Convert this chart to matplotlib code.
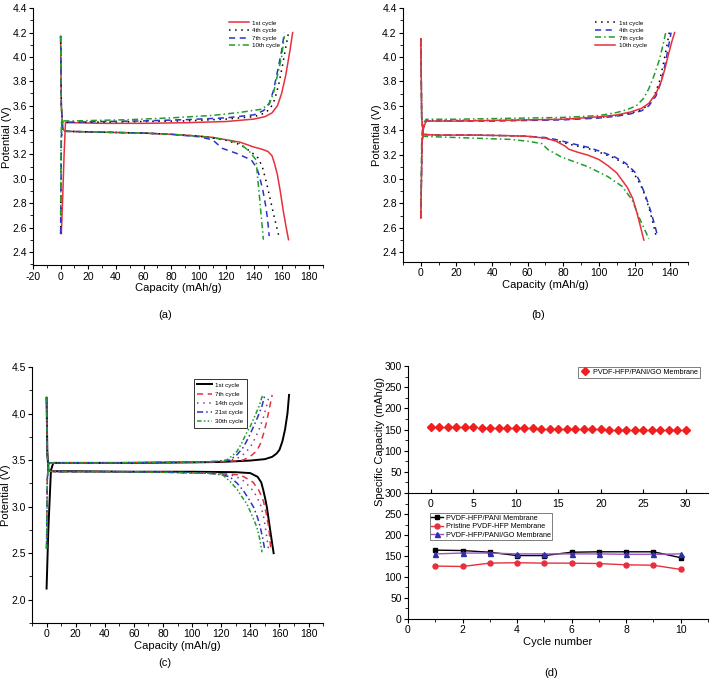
import matplotlib.pyplot as plt
from matplotlib.ticker import MultipleLocator

plt.rcParams['font.family'] = ['Liberation Sans', 'DejaVu Sans']
plt.rcParams['axes.unicode_minus'] = False

# ---------------- panel (a) ----------------
a1_chg_x = [0.5, 1.5, 2.5, 3.5, 10, 30, 60, 90, 120, 140, 148, 153, 157, 160, 163, 166, 168]
a1_chg_y = [2.55, 2.85, 3.2, 3.46, 3.46, 3.455, 3.455, 3.46, 3.47, 3.49, 3.51, 3.54, 3.6, 3.7, 3.85, 4.05, 4.2]
a1_dis_x = [0, 0.5, 1.5, 3, 20, 40, 60, 80, 100, 110, 120, 130, 135, 140, 145, 150, 153, 155, 157, 159, 161, 163, 165]
a1_dis_y = [4.17, 3.6, 3.41, 3.39, 3.385, 3.38, 3.375, 3.365, 3.35, 3.34, 3.32, 3.3, 3.28, 3.26, 3.245, 3.225, 3.19, 3.12, 3.03, 2.9, 2.75, 2.62, 2.5]

a4_chg_x = [0, 0.5, 1, 10, 30, 60, 90, 120, 140, 148, 152, 155, 158, 161, 163, 165]
a4_chg_y = [2.55, 3.3, 3.465, 3.465, 3.465, 3.47, 3.475, 3.49, 3.51, 3.54, 3.58, 3.65, 3.78, 3.95, 4.08, 4.2]
a4_dis_x = [0, 0.5, 1.5, 3, 20, 40, 60, 80, 100, 110, 120, 130, 138, 143, 146, 149, 152, 155, 158]
a4_dis_y = [4.17, 3.6, 3.41, 3.39, 3.385, 3.38, 3.375, 3.365, 3.35, 3.335, 3.315, 3.28, 3.22, 3.17, 3.1, 2.97, 2.82, 2.67, 2.53]

a7_chg_x = [0, 0.5, 1, 10, 30, 60, 90, 120, 140, 147, 151, 154, 157, 160, 162]
a7_chg_y = [2.55, 3.3, 3.465, 3.465, 3.47, 3.475, 3.485, 3.5, 3.525, 3.56, 3.62, 3.72, 3.88, 4.05, 4.2]
a7_dis_x = [0, 0.5, 1.5, 3, 20, 40, 60, 80, 100, 110, 117, 127, 138, 142, 144, 146.5, 148.6, 150, 151]
a7_dis_y = [4.17, 3.6, 3.41, 3.39, 3.385, 3.38, 3.375, 3.365, 3.345, 3.32, 3.25, 3.21, 3.155, 3.09, 3.02, 2.9, 2.77, 2.65, 2.53]

a10_chg_x = [0, 0.3, 0.6, 10, 30, 50, 80, 110, 130, 145, 151, 154, 157, 160, 162]
a10_chg_y = [2.7, 3.3, 3.475, 3.475, 3.48, 3.485, 3.5, 3.52, 3.545, 3.57, 3.61, 3.7, 3.85, 4.0, 4.17]
a10_dis_x = [0, 0.5, 1.5, 3, 20, 40, 60, 80, 100, 110, 120, 130, 137, 141.5, 142.7, 144, 145, 146, 146.8]
a10_dis_y = [4.17, 3.6, 3.41, 3.39, 3.385, 3.38, 3.375, 3.365, 3.35, 3.335, 3.32, 3.29, 3.22, 3.155, 3.0, 2.85, 2.72, 2.6, 2.5]

# ---------------- panel (b) ----------------
b1_chg_x = [0, 0.7, 1.5, 3, 20, 40, 60, 80, 100, 110, 118, 124, 128, 131, 134, 136, 138, 139.5]
b1_chg_y = [2.68, 3.3, 3.42, 3.48, 3.48, 3.48, 3.485, 3.49, 3.505, 3.52, 3.54, 3.57, 3.61, 3.68, 3.8, 3.93, 4.08, 4.2]
b1_dis_x = [0, 0.5, 1.5, 10, 30, 50, 60, 70, 77, 85, 94, 102, 109, 115, 119, 122, 125, 128, 130, 132]
b1_dis_y = [4.15, 3.5, 3.365, 3.36, 3.36, 3.355, 3.35, 3.335, 3.31, 3.28, 3.25, 3.21, 3.17, 3.12, 3.06, 2.99, 2.9, 2.77, 2.66, 2.54]

b4_chg_x = [0, 0.7, 1.5, 3, 20, 40, 60, 80, 100, 110, 118, 124, 128, 132, 135, 137, 139, 140.5]
b4_chg_y = [2.68, 3.3, 3.42, 3.475, 3.475, 3.475, 3.48, 3.485, 3.5, 3.515, 3.535, 3.56, 3.6, 3.68, 3.8, 3.93, 4.08, 4.2]
b4_dis_x = [0, 0.5, 1.5, 10, 30, 50, 60, 70, 77, 85, 94, 102, 109, 115, 120, 123, 126, 129, 131, 133]
b4_dis_y = [4.15, 3.5, 3.365, 3.36, 3.36, 3.355, 3.35, 3.34, 3.32, 3.29, 3.26, 3.22, 3.18, 3.13, 3.06, 2.98, 2.87, 2.74, 2.64, 2.53]

b7_chg_x = [0, 0.5, 1.2, 3, 20, 40, 60, 80, 100, 110, 116, 121, 125, 128, 131, 134, 136, 137.5]
b7_chg_y = [2.68, 3.35, 3.45, 3.49, 3.49, 3.495, 3.5, 3.505, 3.52, 3.545, 3.57, 3.6, 3.66, 3.74, 3.85, 3.98, 4.1, 4.2]
b7_dis_x = [0, 0.5, 1.5, 10, 30, 50, 60, 68, 71.5, 79, 94, 105, 113, 118.6, 123.3, 126.5, 128]
b7_dis_y = [4.15, 3.5, 3.35, 3.345, 3.335, 3.325, 3.31, 3.29, 3.24, 3.18, 3.1, 3.02, 2.94, 2.83, 2.66, 2.56, 2.51]

b10_chg_x = [0, 0.7, 1.5, 3, 20, 40, 60, 80, 100, 110, 118, 124, 128, 132, 135, 137, 139, 141, 142.5]
b10_chg_y = [2.68, 3.3, 3.42, 3.475, 3.475, 3.48, 3.485, 3.49, 3.51, 3.525, 3.55, 3.58, 3.62, 3.7, 3.8, 3.9, 4.02, 4.13, 4.2]
b10_dis_x = [0, 0.5, 1.5, 10, 30, 50, 60, 70, 76, 81, 83, 88, 94, 100, 105, 110, 113, 116, 119, 121.4, 123.5, 125.2]
b10_dis_y = [4.15, 3.5, 3.365, 3.36, 3.36, 3.355, 3.35, 3.335, 3.31, 3.27, 3.245, 3.22, 3.195, 3.16, 3.11, 3.05, 2.99, 2.93, 2.84, 2.72, 2.6, 2.5]

# ---------------- panel (c) ----------------
c1_chg_x = [0, 1.2, 3, 4.6, 20, 60, 100, 120, 140, 150, 155, 158, 160, 162, 163.8, 165.5, 166.6]
c1_chg_y = [2.12, 2.75, 3.39, 3.47, 3.47, 3.47, 3.475, 3.48, 3.495, 3.51, 3.535, 3.57, 3.61, 3.7, 3.825, 4.0, 4.2]
c1_dis_x = [0, 0.5, 1.2, 3, 20, 60, 100, 130, 140, 145, 147.5, 149, 150.3, 151.4, 153.7, 156]
c1_dis_y = [4.17, 3.6, 3.39, 3.38, 3.38, 3.375, 3.375, 3.37, 3.36, 3.32, 3.26, 3.17, 3.08, 2.99, 2.74, 2.5]

c7_chg_x = [0, 0.5, 1.5, 10, 40, 80, 110, 125, 135, 140, 144.5, 147, 149, 151, 153, 155]
c7_chg_y = [2.55, 3.3, 3.47, 3.47, 3.47, 3.475, 3.48, 3.485, 3.5, 3.54, 3.6, 3.68, 3.78, 3.9, 4.05, 4.2]
c7_dis_x = [0, 0.5, 1.5, 10, 40, 80, 110, 125, 133, 138, 142, 146, 149, 151, 152.6, 154.2]
c7_dis_y = [4.17, 3.55, 3.38, 3.375, 3.375, 3.37, 3.36, 3.35, 3.34, 3.3, 3.26, 3.17, 3.06, 2.92, 2.78, 2.53]

c14_chg_x = [0, 0.5, 1.5, 10, 40, 80, 110, 122, 130.7, 136, 140, 143.5, 146.8, 149, 151, 153]
c14_chg_y = [2.55, 3.3, 3.47, 3.47, 3.47, 3.475, 3.48, 3.49, 3.515, 3.57, 3.64, 3.74, 3.86, 3.96, 4.07, 4.2]
c14_dis_x = [0, 0.5, 1.5, 10, 40, 80, 110, 122, 129.4, 135, 139.9, 143.5, 146.8, 149, 150.3, 152.6]
c14_dis_y = [4.17, 3.55, 3.38, 3.375, 3.375, 3.37, 3.36, 3.35, 3.33, 3.28, 3.21, 3.13, 3.03, 2.9, 2.78, 2.53]

c21_chg_x = [0, 0.5, 1.5, 10, 40, 80, 110, 120, 126, 131, 135.3, 139, 142.2, 145, 148, 150]
c21_chg_y = [2.55, 3.3, 3.47, 3.47, 3.47, 3.475, 3.48, 3.49, 3.5, 3.56, 3.64, 3.75, 3.86, 3.96, 4.08, 4.2]
c21_dis_x = [0, 0.5, 1.5, 10, 40, 80, 110, 120, 125.9, 131, 135.3, 139, 142.2, 145, 146.8, 148.5, 150]
c21_dis_y = [4.17, 3.55, 3.38, 3.375, 3.375, 3.37, 3.36, 3.345, 3.32, 3.25, 3.17, 3.08, 2.995, 2.88, 2.78, 2.66, 2.53]

c30_chg_x = [0, 0.5, 1.5, 10, 40, 80, 110, 118, 123.7, 127, 130.7, 134, 137, 139.9, 143, 146, 148.5]
c30_chg_y = [2.55, 3.3, 3.47, 3.47, 3.47, 3.475, 3.48, 3.49, 3.5, 3.54, 3.59, 3.68, 3.78, 3.86, 3.97, 4.08, 4.2]
c30_dis_x = [0, 0.5, 1.5, 10, 40, 80, 110, 116, 121.4, 126, 130.7, 134, 137.6, 141, 144.5, 146.5, 148]
c30_dis_y = [4.17, 3.55, 3.38, 3.375, 3.375, 3.37, 3.36, 3.35, 3.336, 3.27, 3.19, 3.11, 3.03, 2.91, 2.78, 2.65, 2.51]

# ---------------- panel (d) ----------------
go_cycles = list(range(0, 31))
go_capacity = [156, 157, 156, 155, 155, 155, 154, 154, 154, 153, 153, 153, 153, 152, 152, 152,
               152, 151, 151, 151, 151, 150, 150, 150, 150, 150, 149, 149, 149, 148, 148]

cycles10 = [1, 2, 3, 4, 5, 6, 7, 8, 9, 10]
pani_cap = [164, 163, 159, 151, 151, 159, 160, 160, 160, 146]
pristine_cap = [126, 125, 133, 134, 133, 133, 132, 129, 128, 118]
pani_go_cap = [155, 157, 157, 155, 155, 155, 155, 154, 154, 155]

RED = '#e8303c'
BLUE = '#2a34c8'
GREEN = '#1f9e2a'
PURPLE = '#8a3c8a'
TICK_FS = 7.5
LAB_FS = 8

fig = plt.figure(figsize=(7.10, 6.82), dpi=100)


def style_axes(ax):
    ax.spines['top'].set_visible(False)
    ax.spines['right'].set_visible(False)
    ax.tick_params(which='major', direction='out', length=3, width=0.8, labelsize=TICK_FS, pad=1.5)
    ax.tick_params(which='minor', direction='out', length=2, width=0.6)


# (a)
ax_a = fig.add_axes([0.0465, 0.611, 0.4085, 0.377])
ax_a.plot(a1_chg_x, a1_chg_y, color=RED, lw=1.1, label='1st cycle')
ax_a.plot(a1_dis_x, a1_dis_y, color=RED, lw=1.1)
ax_a.plot(a4_chg_x, a4_chg_y, color='black', lw=1.1, ls=(0, (1, 3)), label='4th cycle')
ax_a.plot(a4_dis_x, a4_dis_y, color='black', lw=1.1, ls=(0, (1, 3)))
ax_a.plot(a7_chg_x, a7_chg_y, color=BLUE, lw=1.1, ls=(0, (4, 3)), label='7th cycle')
ax_a.plot(a7_dis_x, a7_dis_y, color=BLUE, lw=1.1, ls=(0, (4, 3)))
ax_a.plot(a10_chg_x, a10_chg_y, color=GREEN, lw=1.1, ls=(0, (4, 2, 1, 2)), label='10th cycle')
ax_a.plot(a10_dis_x, a10_dis_y, color=GREEN, lw=1.1, ls=(0, (4, 2, 1, 2)))
ax_a.set_xlim(-20, 190)
ax_a.set_ylim(2.29, 4.4)
ax_a.xaxis.set_major_locator(MultipleLocator(20))
ax_a.xaxis.set_minor_locator(MultipleLocator(10))
ax_a.set_yticks([2.4, 2.6, 2.8, 3.0, 3.2, 3.4, 3.6, 3.8, 4.0, 4.2, 4.4])
ax_a.set_yticklabels(['2.4', '2.6', '2.8', '3.0', '3.2', '3.4', '3.6', '3.8', '4.0', '4.2', '4.4'])
ax_a.yaxis.set_minor_locator(MultipleLocator(0.1))
style_axes(ax_a)
ax_a.set_xlabel('Capacity (mAh/g)', fontsize=LAB_FS, labelpad=1)
ax_a.set_ylabel('Potential (V)', fontsize=LAB_FS, labelpad=0)
ax_a.legend(loc='upper left', bbox_to_anchor=(0.66, 0.97), frameon=False, fontsize=4.5,
            handlelength=3.2, handletextpad=0.5, labelspacing=0.35, borderpad=0.2)

# (b)
ax_b = fig.add_axes([0.5676, 0.6158, 0.4014, 0.3722])
ax_b.plot(b1_chg_x, b1_chg_y, color='black', lw=1.1, ls=(0, (1, 3)), label='1st cycle')
ax_b.plot(b1_dis_x, b1_dis_y, color='black', lw=1.1, ls=(0, (1, 3)))
ax_b.plot(b4_chg_x, b4_chg_y, color=BLUE, lw=1.1, ls=(0, (4, 3)), label='4th cycle')
ax_b.plot(b4_dis_x, b4_dis_y, color=BLUE, lw=1.1, ls=(0, (4, 3)))
ax_b.plot(b7_chg_x, b7_chg_y, color=GREEN, lw=1.1, ls=(0, (4, 2, 1, 2)), label='7th cycle')
ax_b.plot(b7_dis_x, b7_dis_y, color=GREEN, lw=1.1, ls=(0, (4, 2, 1, 2)))
ax_b.plot(b10_chg_x, b10_chg_y, color=RED, lw=1.1, label='10th cycle')
ax_b.plot(b10_dis_x, b10_dis_y, color=RED, lw=1.1)
ax_b.set_xlim(-10, 150)
ax_b.set_ylim(2.32, 4.4)
ax_b.set_xticks([0, 20, 40, 60, 80, 100, 120, 140])
ax_b.xaxis.set_minor_locator(MultipleLocator(10))
ax_b.set_yticks([2.4, 2.6, 2.8, 3.0, 3.2, 3.4, 3.6, 3.8, 4.0, 4.2, 4.4])
ax_b.set_yticklabels(['2.4', '2.6', '2.8', '3.0', '3.2', '3.4', '3.6', '3.8', '4.0', '4.2', '4.4'])
ax_b.yaxis.set_minor_locator(MultipleLocator(0.1))
style_axes(ax_b)
ax_b.set_xlabel('Capacity (mAh/g)', fontsize=LAB_FS, labelpad=1)
ax_b.set_ylabel('Potential (V)', fontsize=LAB_FS, labelpad=0)
ax_b.legend(loc='upper left', bbox_to_anchor=(0.66, 0.97), frameon=False, fontsize=4.5,
            handlelength=3.2, handletextpad=0.5, labelspacing=0.35, borderpad=0.2)

# (c)
ax_c = fig.add_axes([0.0451, 0.0865, 0.41, 0.3754])
ax_c.plot(c1_chg_x, c1_chg_y, color='black', lw=1.4, label='1st cycle')
ax_c.plot(c1_dis_x, c1_dis_y, color='black', lw=1.4)
ax_c.plot(c7_chg_x, c7_chg_y, color=RED, lw=1.1, ls=(0, (4, 3)), label='7th cycle')
ax_c.plot(c7_dis_x, c7_dis_y, color=RED, lw=1.1, ls=(0, (4, 3)))
ax_c.plot(c14_chg_x, c14_chg_y, color=PURPLE, lw=1.1, ls=(0, (1, 3)), label='14th cycle')
ax_c.plot(c14_dis_x, c14_dis_y, color=PURPLE, lw=1.1, ls=(0, (1, 3)))
ax_c.plot(c21_chg_x, c21_chg_y, color=BLUE, lw=1.1, ls=(0, (4, 2, 1, 2)), label='21st cycle')
ax_c.plot(c21_dis_x, c21_dis_y, color=BLUE, lw=1.1, ls=(0, (4, 2, 1, 2)))
ax_c.plot(c30_chg_x, c30_chg_y, color=GREEN, lw=1.1, ls=(0, (3, 1.5, 1, 1.5, 1, 1.5)), label='30th cycle')
ax_c.plot(c30_dis_x, c30_dis_y, color=GREEN, lw=1.1, ls=(0, (3, 1.5, 1, 1.5, 1, 1.5)))
ax_c.set_xlim(-10, 190)
ax_c.set_ylim(1.75, 4.5)
ax_c.set_xticks([0, 20, 40, 60, 80, 100, 120, 140, 160, 180])
ax_c.xaxis.set_minor_locator(MultipleLocator(10))
ax_c.set_yticks([2.0, 2.5, 3.0, 3.5, 4.0, 4.5])
ax_c.yaxis.set_minor_locator(MultipleLocator(0.25))
style_axes(ax_c)
ax_c.set_xlabel('Capacity (mAh/g)', fontsize=LAB_FS, labelpad=1)
ax_c.set_ylabel('Potential (V)', fontsize=LAB_FS, labelpad=0)
leg_c = ax_c.legend(loc='upper left', bbox_to_anchor=(0.555, 0.955), frameon=True, fontsize=4.5,
                    handlelength=2.4, handletextpad=0.4, labelspacing=0.6, borderpad=0.6,
                    fancybox=False, borderaxespad=0)
leg_c.get_frame().set_edgecolor('black')
leg_c.get_frame().set_linewidth(0.7)

# (d) upper: 30 cycles
ax_du = fig.add_axes([0.5746, 0.2771, 0.4225, 0.1862])
ax_du.plot(go_cycles, go_capacity, ls='none', marker='D', ms=3.6, color='#f02020',
           label='PVDF-HFP/PANI/GO Membrane')
ax_du.set_xlim(-2.7, 32.6)
ax_du.set_ylim(0, 300)
ax_du.set_xticks([0, 5, 10, 15, 20, 25, 30])
ax_du.set_yticks([50, 100, 150, 200, 250, 300])
ax_du.yaxis.set_minor_locator(MultipleLocator(25))
style_axes(ax_du)
ax_du.tick_params(axis='x', which='major', direction='in', length=3, pad=4)
leg_du = ax_du.legend(loc='upper right', bbox_to_anchor=(0.975, 0.995), frameon=True, fontsize=5.2,
                      handlelength=1.2, handletextpad=0.6, borderpad=0.3, fancybox=False,
                      borderaxespad=0)
leg_du.get_frame().set_edgecolor('#444444')
leg_du.get_frame().set_linewidth(0.6)

# (d) lower: 10 cycles
ax_dl = fig.add_axes([0.5746, 0.0924, 0.4225, 0.1847])
ax_dl.patch.set_visible(False)
ax_dl.plot(cycles10, pani_cap, color='black', lw=1.0, marker='s', ms=3.2,
           label='PVDF-HFP/PANI Membrane')
ax_dl.plot(cycles10, pristine_cap, color=RED, lw=1.0, marker='o', ms=3.6,
           label='Pristine PVDF-HFP Membrane')
ax_dl.plot(cycles10, pani_go_cap, color='#a050c8', lw=1.0, marker='^', ms=3.6,
           mfc='#2a30b0', mec='#2a30b0', label='PVDF-HFP/PANI/GO Membrane')
ax_dl.set_xlim(0, 11)
ax_dl.set_ylim(0, 300)
ax_dl.set_xticks([0, 2, 4, 6, 8, 10])
ax_dl.xaxis.set_minor_locator(MultipleLocator(1))
ax_dl.set_yticks([0, 50, 100, 150, 200, 250, 300])
ax_dl.yaxis.set_minor_locator(MultipleLocator(25))
style_axes(ax_dl)
ax_dl.set_xlabel('Cycle number', fontsize=LAB_FS, labelpad=1)
leg_dl = ax_dl.legend(loc='upper left', bbox_to_anchor=(0.073, 0.84), frameon=True, fontsize=5.2,
                      handlelength=1.6, handletextpad=0.4, labelspacing=0.2, borderpad=0.2,
                      fancybox=False, borderaxespad=0)
leg_dl.get_frame().set_edgecolor('#444444')
leg_dl.get_frame().set_linewidth(0.6)

fig.text(0.535, 0.352, 'Specific Capacity (mAh/g)', rotation=90, ha='center', va='center',
         fontsize=LAB_FS)

# panel letters
fig.text(0.232, 0.538, '(a)', ha='center', va='center', fontsize=LAB_FS)
fig.text(0.758, 0.538, '(b)', ha='center', va='center', fontsize=LAB_FS)
fig.text(0.232, 0.028, '(c)', ha='center', va='center', fontsize=LAB_FS)
fig.text(0.776, 0.013, '(d)', ha='center', va='center', fontsize=LAB_FS)

fig.savefig('out.png', dpi=100)
